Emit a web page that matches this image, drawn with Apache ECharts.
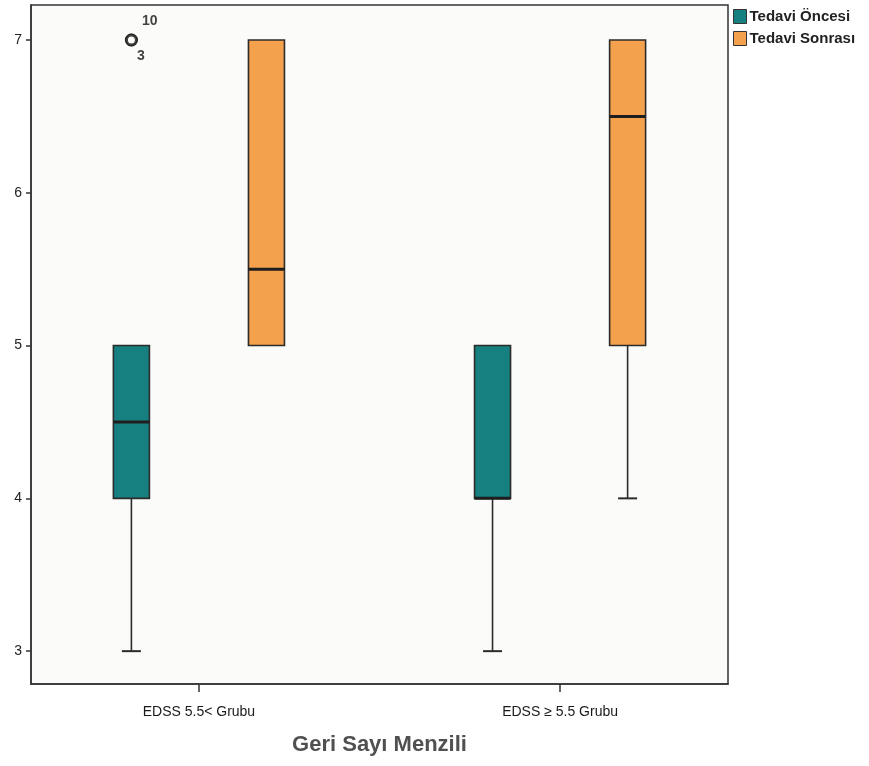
<!DOCTYPE html>
<html>
<head>
<meta charset="utf-8">
<script src="https://cdn.jsdelivr.net/npm/echarts@6/dist/echarts.min.js"></script>
<style>html,body{margin:0;padding:0;background:#fff}#c{width:869px;height:766px}</style>
</head>
<body>
<div id="c"></div>
<script>
// ---- data ----
const categories = ['EDSS 5.5< Grubu', 'EDSS \u2265 5.5 Grubu'];
const seriesNames = ['Tedavi Öncesi', 'Tedavi Sonrası'];
// [groupIndex, min, q1, median, q3, max]
const oncesiBoxes = [
  [0, 3, 4, 4.5, 5, 5],
  [1, 3, 4, 4, 5, 5]
];
const sonrasiBoxes = [
  [0, 5, 5, 5.5, 7, 7],
  [1, 4, 5, 6.5, 7, 7]
];
// outliers: [groupIndex, value, caseLabel]
const oncesiOutliers = [
  [0, 7, '10'],
  [0, 7, '3']
];
const yTicks = [3, 4, 5, 6, 7];

const colors = ['#167f80', '#f3a14c'];
const OFF = 0.187; // half spacing between paired boxes, in group units

function makeRender(shift) {
  return function (params, api) {
    const g = api.value(0) + shift;
    const pMin = api.coord([g, api.value(1)]);
    const pQ1 = api.coord([g, api.value(2)]);
    const pMed = api.coord([g, api.value(3)]);
    const pQ3 = api.coord([g, api.value(4)]);
    const pMax = api.coord([g, api.value(5)]);
    const cx = pMin[0];
    const half = 18, cap = 9.5;
    const line = { stroke: '#2b2b2b', lineWidth: 1.6 };
    const children = [];
    if (pMin[1] - pQ1[1] > 0.5) {
      children.push({ type: 'line', shape: { x1: cx, y1: pQ1[1], x2: cx, y2: pMin[1] }, style: line });
      children.push({ type: 'line', shape: { x1: cx - cap, y1: pMin[1], x2: cx + cap, y2: pMin[1] }, style: { stroke: '#2b2b2b', lineWidth: 2 } });
    }
    if (pQ3[1] - pMax[1] > 0.5) {
      children.push({ type: 'line', shape: { x1: cx, y1: pQ3[1], x2: cx, y2: pMax[1] }, style: line });
      children.push({ type: 'line', shape: { x1: cx - cap, y1: pMax[1], x2: cx + cap, y2: pMax[1] }, style: { stroke: '#2b2b2b', lineWidth: 2 } });
    }
    children.push({
      type: 'rect',
      shape: { x: cx - half, y: pQ3[1], width: half * 2, height: pQ1[1] - pQ3[1] },
      style: { fill: api.visual('color'), stroke: '#2b2b2b', lineWidth: 1.6 }
    });
    children.push({ type: 'line', shape: { x1: cx - half, y1: pMed[1], x2: cx + half, y2: pMed[1] }, style: { stroke: '#1e1e1e', lineWidth: 3 } });
    return { type: 'group', children: children };
  };
}

const xRange = { min: -0.465, max: 1.465 };
const chart = echarts.init(document.getElementById('c'));
chart.setOption({
  backgroundColor: '#ffffff',
  animation: false,
  textStyle: { fontFamily: 'Liberation Sans, Arial, sans-serif' },
  grid: { left: 31, top: 5, right: 141, bottom: 82, show: true, backgroundColor: '#fbfcf9', borderColor: '#333', borderWidth: 1.5 },
  legend: {
    data: seriesNames,
    orient: 'vertical',
    left: 728, top: 4,
    itemWidth: 13, itemHeight: 14, itemGap: 7,
    icon: 'rect',
    itemStyle: { borderColor: '#333', borderWidth: 1 },
    textStyle: { fontSize: 15, fontWeight: 'bold', color: '#222', padding: [0, 0, 0, -2] }
  },
  xAxis: [{
    type: 'value', min: xRange.min, max: xRange.max,
    splitLine: { show: false },
    axisLine: { onZero: false, lineStyle: { color: '#333', width: 1.5 } },
    axisTick: { customValues: [0, 1], length: 8, lineStyle: { color: '#333', width: 1.5 } },
    axisLabel: { customValues: [0, 1], formatter: v => categories[Math.round(v)] || '', fontSize: 14, color: '#1a1a1a', margin: 21 },
    name: 'Geri Sayı Menzili', nameLocation: 'middle', nameGap: 50,
    nameTextStyle: { fontSize: 22, fontWeight: 'bold', color: '#505050' }
  }, {
    type: 'value', min: xRange.min, max: xRange.max, show: false
  }],
  yAxis: {
    type: 'value', min: 2.785, max: 7.229,
    splitLine: { show: false },
    axisLine: { show: true, onZero: false, lineStyle: { color: '#333', width: 1.5 } },
    axisTick: { show: true, customValues: yTicks, length: 5, lineStyle: { color: '#333', width: 1.5 } },
    axisLabel: { customValues: yTicks, fontSize: 14, color: '#222', margin: 9 }
  },
  series: [{
    name: seriesNames[0], type: 'custom', xAxisIndex: 0,
    itemStyle: { color: colors[0] },
    renderItem: makeRender(-OFF),
    encode: { x: 0, y: [1, 2, 3, 4, 5] },
    data: oncesiBoxes
  }, {
    name: seriesNames[1], type: 'custom', xAxisIndex: 1,
    itemStyle: { color: colors[1] },
    renderItem: makeRender(OFF),
    encode: { x: 0, y: [1, 2, 3, 4, 5] },
    data: sonrasiBoxes
  }, {
    type: 'scatter', xAxisIndex: 0,
    symbol: 'circle', symbolSize: 10,
    itemStyle: { color: '#fbfcf9', borderColor: '#1e1e1e', borderWidth: 3 },
    data: oncesiOutliers.map((o, i) => ({
      value: [o[0] - OFF, o[1]],
      label: {
        show: true, formatter: o[2], fontSize: 14, fontWeight: 'bold', color: '#111',
        position: 'right', distance: 0, offset: i === 0 ? [4, -19] : [-1, 16]
      }
    }))
  }]
});
</script>
</body>
</html>
